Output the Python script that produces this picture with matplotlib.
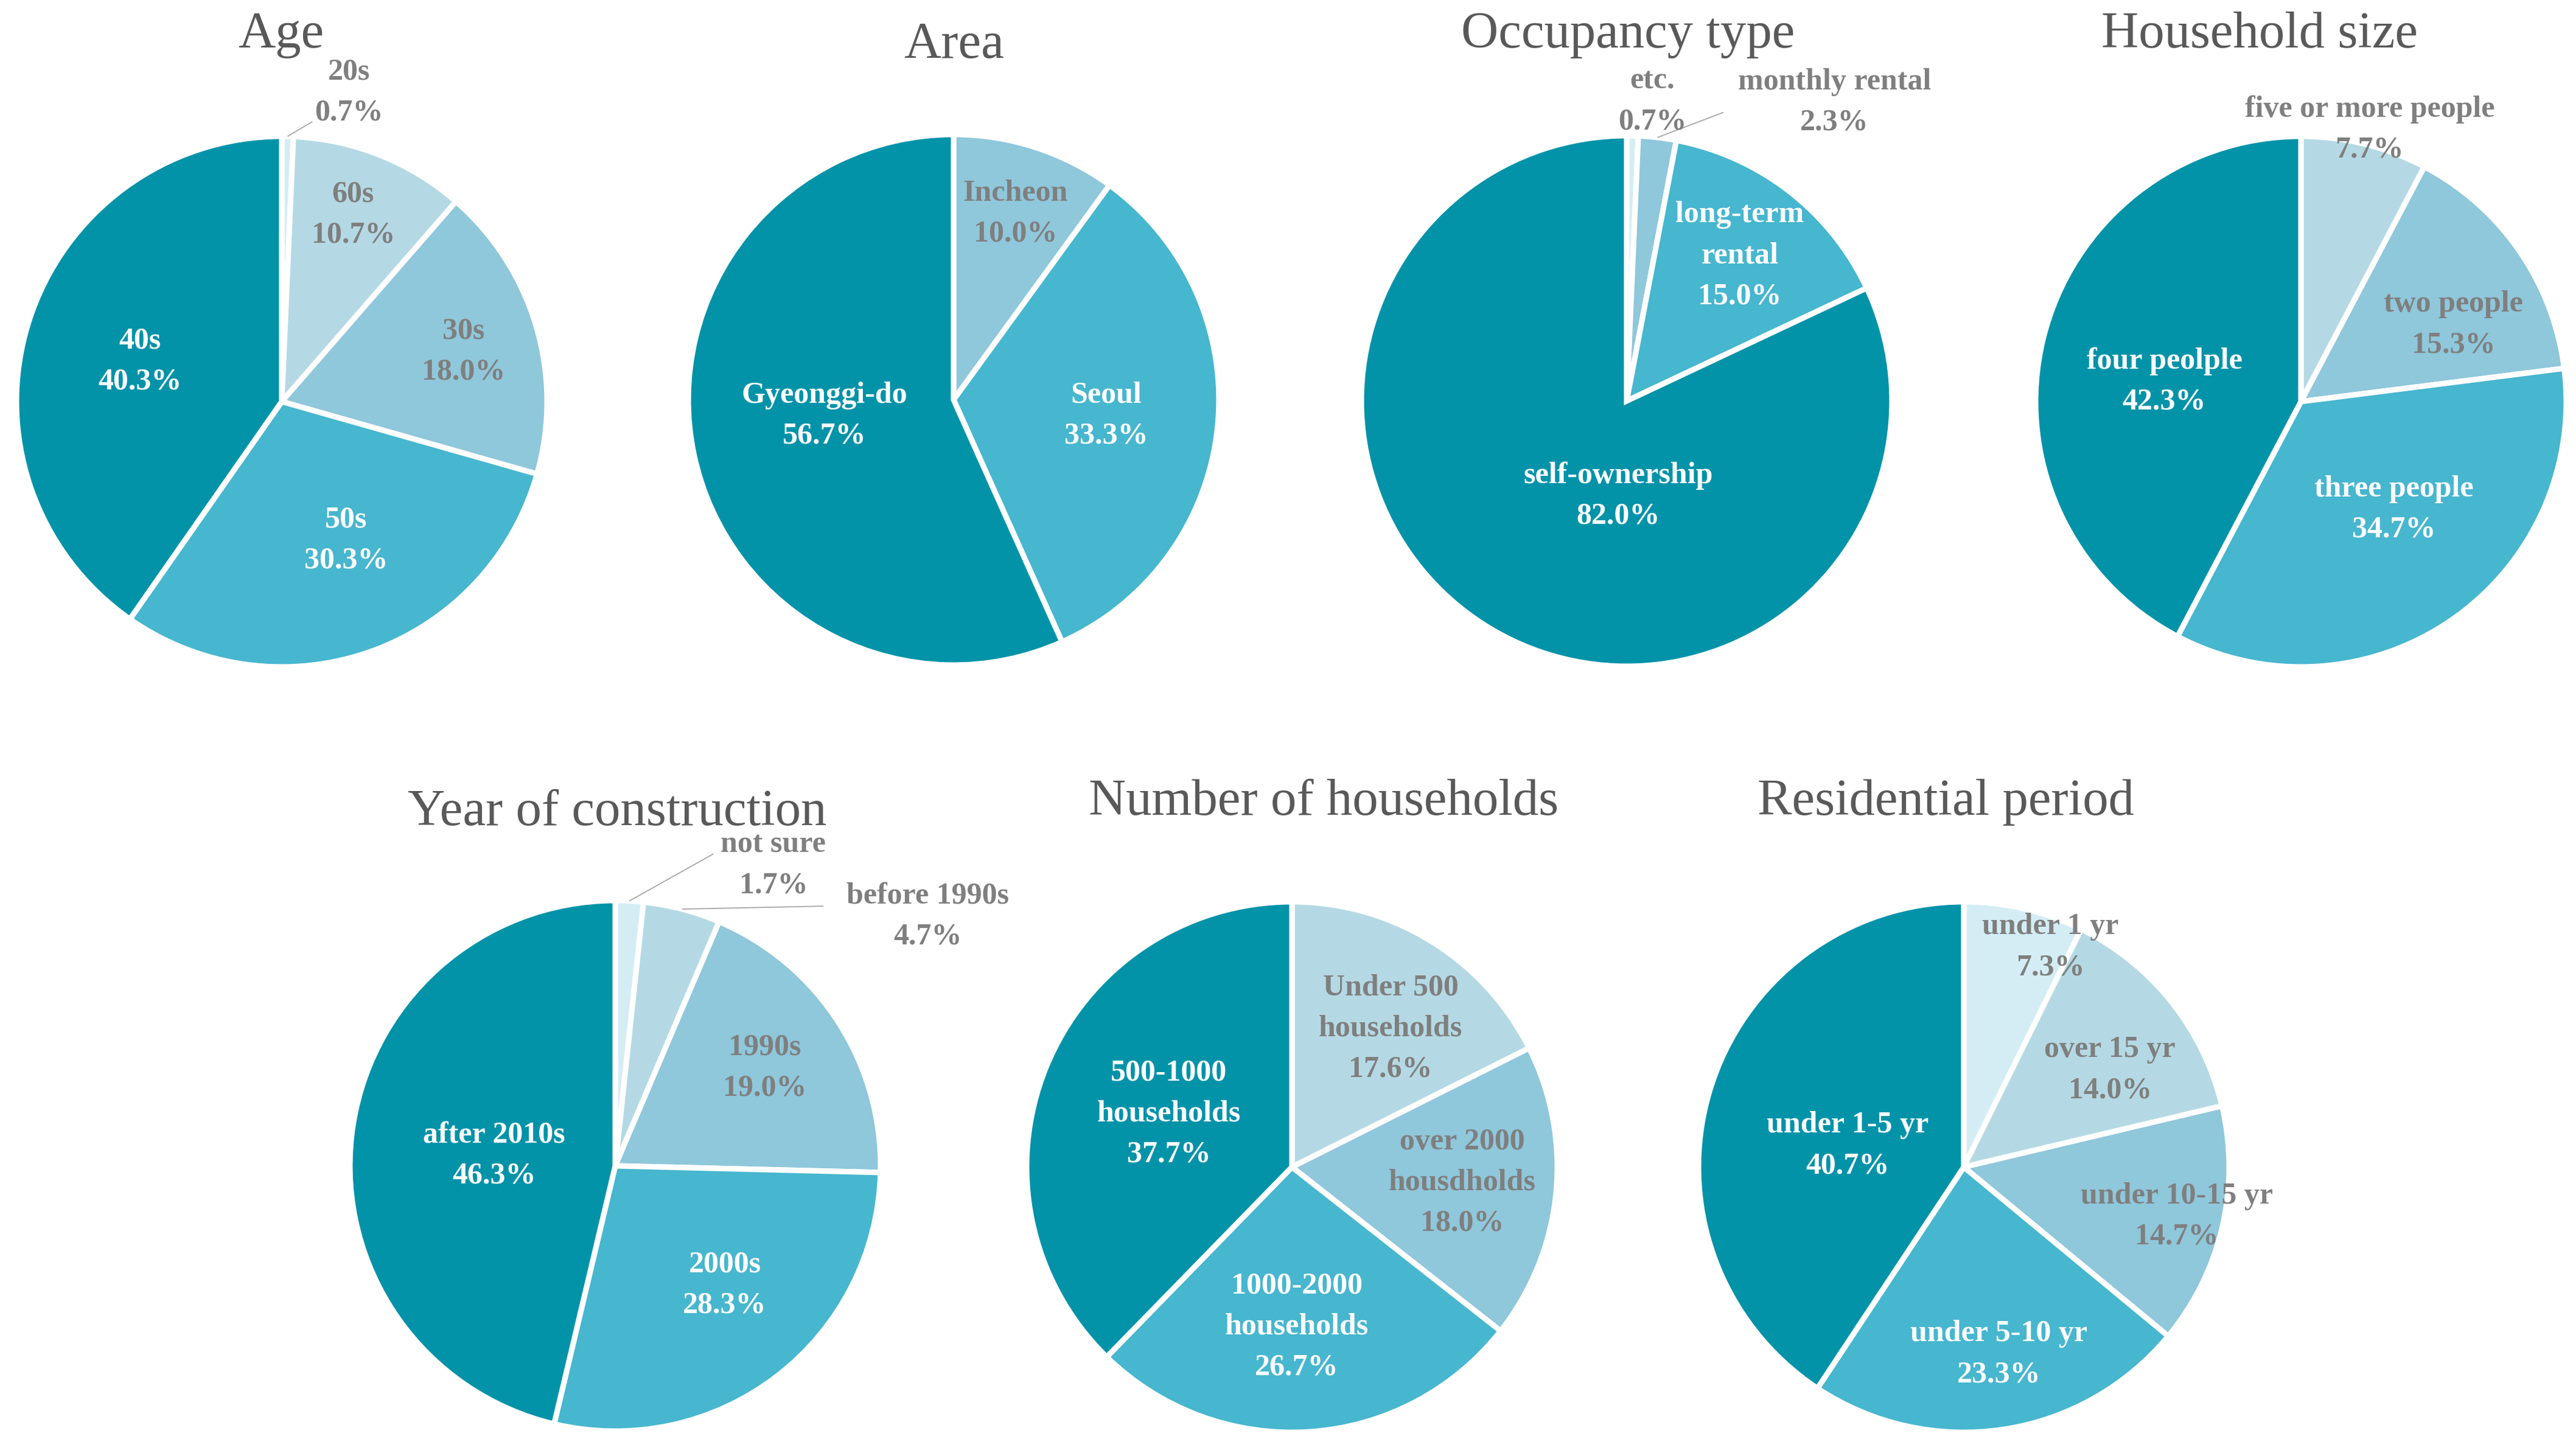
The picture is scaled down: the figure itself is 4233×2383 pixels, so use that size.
import matplotlib
matplotlib.use("Agg")
import matplotlib.pyplot as plt
import numpy as np

plt.rcParams["font.family"] = ["Liberation Serif", "DejaVu Serif"]

# ---- data -------------------------------------------------------------
age_names = ["20s", "60s", "30s", "50s", "40s"]
age_values = [0.7, 10.7, 18.0, 30.3, 40.3]

area_names = ["Incheon", "Seoul", "Gyeonggi-do"]
area_values = [10.0, 33.3, 56.7]

occupancy_names = ["etc.", "monthly rental", "long-term\nrental", "self-ownership"]
occupancy_values = [0.7, 2.3, 15.0, 82.0]

household_names = ["five or more people", "two people", "three people", "four peolple"]
household_values = [7.7, 15.3, 34.7, 42.3]

year_names = ["not sure", "before 1990s", "1990s", "2000s", "after 2010s"]
year_values = [1.7, 4.7, 19.0, 28.3, 46.3]

households_names = ["Under 500\nhouseholds", "over 2000\nhousdholds",
                    "1000-2000\nhouseholds", "500-1000\nhouseholds"]
households_values = [17.6, 18.0, 26.7, 37.7]

period_names = ["under 1 yr", "over 15 yr", "under 10-15 yr", "under 5-10 yr", "under 1-5 yr"]
period_values = [7.3, 14.0, 14.7, 23.3, 40.7]

# ---- style ------------------------------------------------------------
DARK = "#0393A9"
MEDIUM = "#47B6CF"
LIGHT = "#8FC7DB"
LIGHTER = "#B4D9E4"
LIGHTEST = "#D4EDF4"
TITLE_GRAY = "#595959"
LABEL_GRAY = "#7F7F7F"
LEADER_GRAY = "#A6A6A6"

W, H = 4233, 2383
R = 436  # pie radius in pixels

charts = [
    dict(title="Age", names=age_names, values=age_values,
         colors=[LIGHTEST, LIGHTER, LIGHT, MEDIUM, DARK],
         center=(463, 660), title_xy=(462, 78),
         label_xy=[(0.254, 1.164), (0.269, 0.703), (0.686, 0.187),
                   (0.243, -0.524), (-0.535, 0.152)],
         leaders={0: (0.115, 1.055)}),
    dict(title="Area", names=area_names, values=area_values,
         colors=[LIGHT, MEDIUM, DARK],
         center=(1567, 657), title_xy=(1568, 95),
         label_xy=[(0.234, 0.702), (0.575, -0.06), (-0.486, -0.06)],
         leaders={}),
    dict(title="Occupancy type", names=occupancy_names, values=occupancy_values,
         colors=[LIGHTEST, LIGHT, MEDIUM, DARK],
         center=(2673, 659), title_xy=(2675, 78),
         label_xy=[(0.097, 1.128), (0.783, 1.126), (0.427, 0.548), (-0.032, -0.358)],
         leaders={1: (0.365, 1.088)}),
    dict(title="Household size", names=household_names, values=household_values,
         colors=[LIGHTER, LIGHT, MEDIUM, DARK],
         center=(3781, 660), title_xy=(3713, 78),
         label_xy=[(0.259, 1.025), (0.575, 0.289), (0.351, -0.406), (-0.515, 0.076)],
         leaders={}),
    dict(title="Year of construction", names=year_names, values=year_values,
         colors=[LIGHTEST, LIGHTER, LIGHT, MEDIUM, DARK],
         center=(1011, 1916), title_xy=(1014, 1356),
         label_xy=[(0.596, 1.133), (1.178, 0.941), (0.563, 0.37),
                   (0.413, -0.45), (-0.457, 0.04)],
         leaders={0: (0.37, 1.176), 1: (0.785, 0.979)}),
    dict(title="Number of households", names=households_names, values=households_values,
         colors=[LIGHTER, LIGHT, MEDIUM, DARK],
         center=(2123, 1918), title_xy=(2175, 1339),
         label_xy=[(0.372, 0.522), (0.642, -0.059), (0.018, -0.602), (-0.464, 0.2)],
         leaders={}),
    dict(title="Residential period", names=period_names, values=period_values,
         colors=[LIGHTEST, LIGHTER, LIGHT, MEDIUM, DARK],
         center=(3227, 1918), title_xy=(3197, 1339),
         label_xy=[(0.327, 0.829), (0.551, 0.365), (0.803, -0.186),
                   (0.133, -0.706), (-0.438, 0.081)],
         leaders={}),
]


def draw_pie(fig, spec):
    cx, cy = spec["center"]
    span = 1.6  # axes half-size in pie radii
    half = span * R
    ax = fig.add_axes([(cx - half) / W, 1 - (cy + half) / H, 2 * half / W, 2 * half / H])
    wedges, _ = ax.pie(
        spec["values"],
        colors=spec["colors"],
        startangle=90,
        counterclock=False,
        radius=1.0,
        wedgeprops=dict(edgecolor="white", linewidth=6.5),
    )
    ax.set_xlim(-span, span)
    ax.set_ylim(-span, span)
    ax.set_aspect("equal")
    ax.axis("off")

    for i, (name, value) in enumerate(zip(spec["names"], spec["values"])):
        x, y = spec["label_xy"][i]
        color = "white" if spec["colors"][i] in (DARK, MEDIUM) else LABEL_GRAY
        ax.text(x, y, f"{name}\n{value:.1f}%", ha="center", va="center",
                ma="center", fontsize=36, fontweight="bold", color=color,
                linespacing=1.6)
        if i in spec["leaders"]:
            w = wedges[i]
            mid = np.deg2rad(0.5 * (w.theta1 + w.theta2))
            ex, ey = spec["leaders"][i]
            ax.plot([np.cos(mid), ex], [np.sin(mid), ey], color=LEADER_GRAY,
                    linewidth=1.3, solid_capstyle="butt")

    tx, ty = spec["title_xy"]
    fig.text(tx / W, 1 - ty / H, spec["title"], ha="center", va="baseline",
             fontsize=61, color=TITLE_GRAY)


fig = plt.figure(figsize=(W / 100, H / 100), dpi=100)
fig.patch.set_facecolor("white")
for spec in charts:
    draw_pie(fig, spec)

fig.savefig("out.png", dpi=100, facecolor="white")
